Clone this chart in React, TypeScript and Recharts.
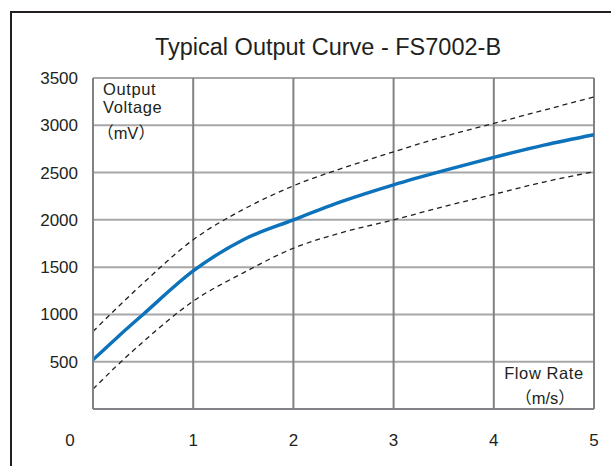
import { LineChart, Line, XAxis, YAxis, CartesianGrid } from 'recharts'

const flowRate = [0, 0.25, 0.5, 1, 1.5, 2, 2.5, 3, 3.5, 4, 4.5, 5]
const typical = [520, 765, 1000, 1460, 1790, 2000, 2200, 2370, 2520, 2660, 2790, 2900]
const upperLimit = [820, 1080, 1330, 1790, 2110, 2360, 2550, 2720, 2880, 3020, 3160, 3300]
const lowerLimit = [210, 470, 710, 1140, 1440, 1700, 1870, 2000, 2140, 2270, 2400, 2510]

const xTicks = [0, 1, 2, 3, 4, 5]
const yTicks = [0, 500, 1000, 1500, 2000, 2500, 3000, 3500]

const data = flowRate.map((x, i) => ({
  x,
  typical: typical[i],
  upper: upperLimit[i],
  lower: lowerLimit[i],
}))

const FONT = 'Liberation Sans, Arial, sans-serif'
const LABEL_FONT = '"Liberation Sans", "Noto Sans CJK SC", sans-serif'

function XTick({ x, y, payload }: any) {
  // origin label sits left of the axis corner
  const dx = payload.value === 0 ? -23 : 0
  return (
    <text x={x + dx} y={y + 29} textAnchor="middle" fontSize={17} fontFamily={FONT} fill="#231f20">
      {payload.value}
    </text>
  )
}

function YTick({ x, y, payload }: any) {
  if (payload.value === 0) return null
  return (
    <text x={x} y={y + 6} textAnchor="end" fontSize={17} fontFamily={FONT} fill="#231f20">
      {payload.value}
    </text>
  )
}

export default function App() {
  return (
    <div style={{ position: 'absolute', left: 0, top: 0, width: 611, height: 466, background: '#fff', overflow: 'hidden' }}>
      {/* outer frame */}
      <div style={{ position: 'absolute', left: 10, top: 11, width: 700, height: 600, borderTop: '2px solid #231f20', borderLeft: '2px solid #231f20' }} />
      <LineChart width={611} height={466} data={data} margin={{ top: 78, right: 17, bottom: 0, left: 0 }}>
        <CartesianGrid horizontal={true} vertical={false} stroke="#a7a7a9" strokeWidth={2} />
        <CartesianGrid horizontal={false} vertical={true} stroke="#818285" strokeWidth={2} />
        <XAxis
          dataKey="x"
          type="number"
          domain={[0, 5]}
          ticks={xTicks}
          tickLine={false}
          axisLine={{ stroke: '#818285', strokeWidth: 2 }}
          tick={<XTick />}
          height={57}
        />
        <YAxis
          type="number"
          domain={[0, 3500]}
          ticks={yTicks}
          width={93}
          tickLine={false}
          tickSize={0}
          tickMargin={15}
          axisLine={{ stroke: '#818285', strokeWidth: 2 }}
          tick={<YTick />}
        />
        <Line type="monotone" dataKey="upper" stroke="#231f20" strokeWidth={1.3} strokeDasharray="5 4" dot={false} isAnimationActive={false} />
        <Line type="monotone" dataKey="lower" stroke="#231f20" strokeWidth={1.3} strokeDasharray="5 4" dot={false} isAnimationActive={false} />
        <Line type="monotone" dataKey="typical" stroke="#0b72bb" strokeWidth={3.4} dot={false} isAnimationActive={false} />
      </LineChart>
      <svg width={611} height={466} style={{ position: 'absolute', left: 0, top: 0, pointerEvents: 'none' }}>
        <text x={328} y={55} textAnchor="middle" fontSize={23.5} fontFamily={FONT} fill="#231f20">
          Typical Output Curve - FS7002-B
        </text>
        <text x={103} y={94.5} fontSize={16.5} letterSpacing={0.6} fontFamily={LABEL_FONT} fill="#231f20">Output</text>
        <text x={103} y={113} fontSize={16.5} letterSpacing={0.6} fontFamily={LABEL_FONT} fill="#231f20">Voltage</text>
        <text x={126} y={139} textAnchor="middle" fontSize={16.5} fontFamily={LABEL_FONT} fill="#231f20">（mV）</text>
        <text x={544} y={379} textAnchor="middle" fontSize={16.5} letterSpacing={0.6} fontFamily={LABEL_FONT} fill="#231f20">Flow Rate</text>
        <text x={545} y={404} textAnchor="middle" fontSize={16.5} fontFamily={LABEL_FONT} fill="#231f20">（m/s）</text>
      </svg>
    </div>
  )
}
